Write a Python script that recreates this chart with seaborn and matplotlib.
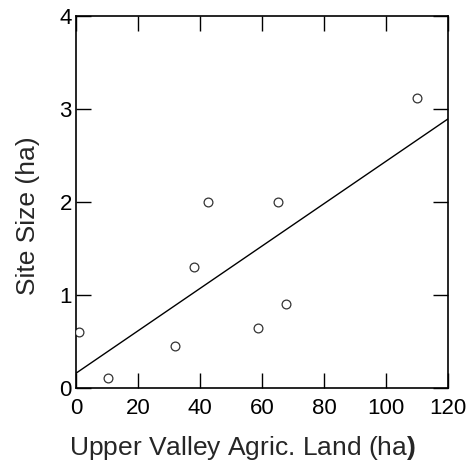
import matplotlib
matplotlib.use("Agg")
import matplotlib.pyplot as plt
import seaborn as sns
import pandas as pd

# site data
agric_land = [1.0, 10.3, 32.0, 38.0, 42.6, 58.6, 65.3, 67.8, 110.0]
site_size = [0.60, 0.11, 0.45, 1.30, 2.00, 0.65, 2.00, 0.90, 3.12]
x_ticks = [0, 20, 40, 60, 80, 100, 120]
y_ticks = [0, 1, 2, 3, 4]

df = pd.DataFrame({"land": agric_land, "size": site_size})

sns.set_style("ticks")
plt.rcParams["font.family"] = ["Liberation Sans", "DejaVu Sans"]
plt.rcParams["mathtext.fontset"] = "custom"
plt.rcParams["mathtext.rm"] = "Liberation Sans"
plt.rcParams["mathtext.bf"] = "Liberation Sans:bold"

fig, ax = plt.subplots(figsize=(4.74, 4.70), dpi=100)
fig.subplots_adjust(left=76 / 474, right=448 / 474, bottom=1 - 388 / 470, top=1 - 16 / 470)
ax.set_xlim(0, 120)
ax.set_ylim(0, 4)

sns.regplot(data=df, x="land", y="size", ax=ax, ci=None, truncate=False,
            scatter_kws=dict(s=40, facecolors="white", edgecolors="black", linewidths=0.9, zorder=3),
            line_kws=dict(color="black", lw=1.0), color="black")

ax.set_xlim(0, 120)
ax.set_ylim(0, 4)
ax.set_xticks(x_ticks)
ax.set_yticks(y_ticks)
ax.tick_params(direction="in", length=11, width=1, top=True, right=True,
               labelsize=16, colors="black")
ax.tick_params(axis="x", pad=7)
ax.tick_params(axis="y", pad=3)
for s in ax.spines.values():
    s.set_visible(True)
    s.set_color("black")
    s.set_linewidth(1.2)

ax.set_xlabel(r"Upper Valley Agric. Land (ha$\mathbf{)}$", fontsize=19, labelpad=11)
ax.set_ylabel("Site Size (ha)", fontsize=19, labelpad=14)
# labels are a little off-centre in the original
ax.xaxis.label.set_x(0.446)
ax.yaxis.label.set_y(0.462)

fig.savefig("out.png", dpi=100)
